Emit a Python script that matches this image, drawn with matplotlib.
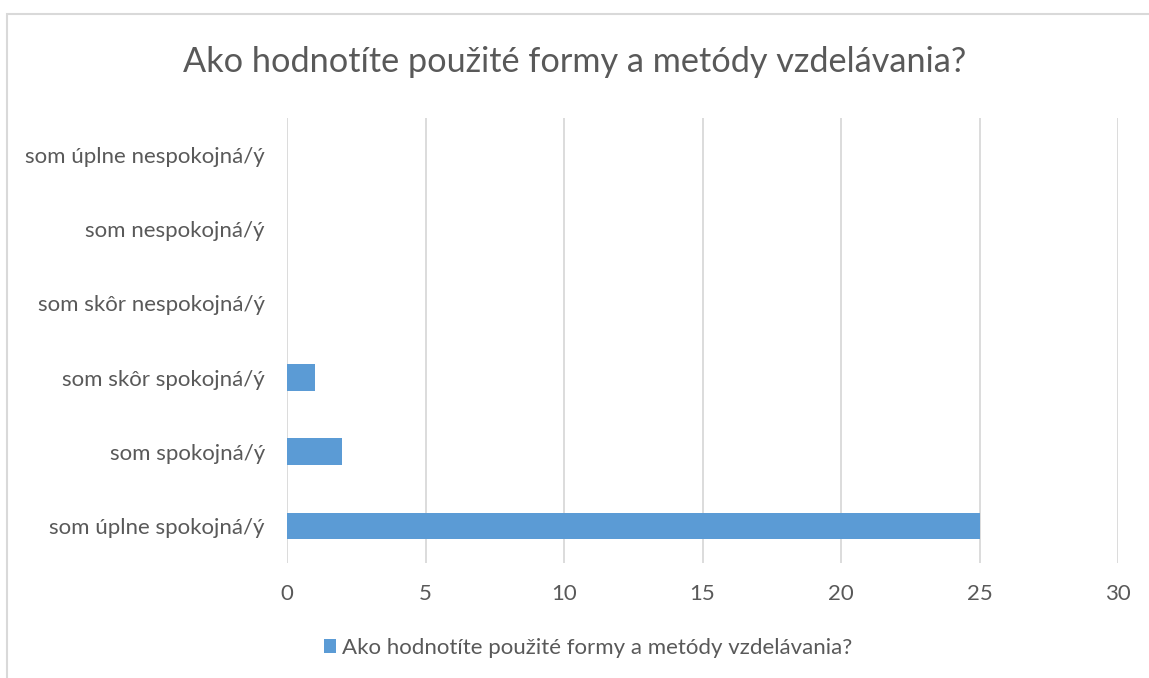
import matplotlib.pyplot as plt
from matplotlib.patches import Rectangle

categories = ['som úplne spokojná/ý', 'som spokojná/ý', 'som skôr spokojná/ý',
              'som skôr nespokojná/ý', 'som nespokojná/ý', 'som úplne nespokojná/ý']
values = [25, 2, 1, 0, 0, 0]
xticks = [0, 5, 10, 15, 20, 25, 30]
title = 'Ako hodnotíte použité formy a metódy vzdelávania?'

text_col = '#595959'
grid_col = '#d9d9d9'
bar_col = '#5b9bd5'

plt.rcParams['font.family'] = ['Lato', 'DejaVu Sans']

fig = plt.figure(figsize=(11.49, 6.78), dpi=100)
ax = fig.add_axes([287/1149, 1 - 563/678, (1118 - 287)/1149, (563 - 118)/678])

ypos = range(len(categories))
ax.barh(ypos, values, height=0.36, color=bar_col, label=title, zorder=3)
ax.set_ylim(-0.5, len(categories) - 0.5)
ax.set_xlim(0, 30)
ax.set_xticks(xticks)
ax.set_yticks(list(ypos))
ax.set_yticklabels(categories)
ax.grid(axis='x', color=grid_col, linewidth=1.3, zorder=0)
for s in ax.spines.values():
    s.set_visible(False)
ax.tick_params(length=0, colors=text_col, labelsize=16)
ax.tick_params(axis='x', pad=15)
ax.tick_params(axis='y', pad=16)

fig.text(0.5, 1 - 62/678, title, ha='center', va='center', fontsize=24.7, color=text_col)

# legend sits a little right of centre in the original
leg = fig.legend(loc='center', bbox_to_anchor=(588/1149, 1 - 648/678), frameon=False,
                 fontsize=16, handlelength=0.55, handleheight=0.55, handletextpad=0.25)
for t in leg.get_texts():
    t.set_color(text_col)

# chart frame
fig.patches.append(Rectangle((7/1149, -0.1), 1.2, 1 - 14/678 + 0.1, transform=fig.transFigure,
                             fill=False, edgecolor=grid_col, linewidth=1.5))

fig.savefig('out.png', dpi=100)
